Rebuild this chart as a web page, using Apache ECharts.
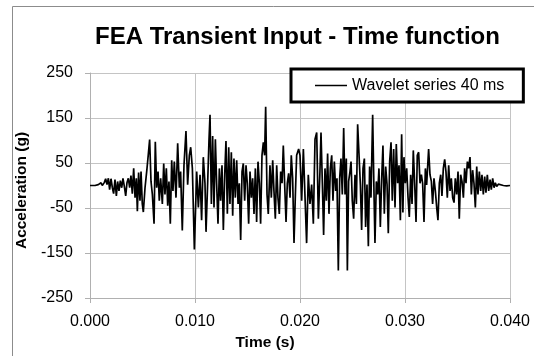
<!DOCTYPE html>
<html>
<head>
<meta charset="utf-8">
<script src="https://cdn.jsdelivr.net/npm/echarts@6/dist/echarts.min.js"></script>
<style>
  html, body { margin: 0; padding: 0; background: #fff; }
  #chart { width: 534px; height: 356px; }
</style>
</head>
<body>
<div id="chart"></div>
<script>
// 数据
const titleText = 'FEA Transient Input - Time function'
const seriesName = 'Wavelet series 40 ms'
const xName = 'Time (s)'
const yName = 'Acceleration (g)'
const xRange = [0, 0.04, 0.01]
const yRange = [-250, 250, 100]

// time in ms, acceleration in g
const timeMs = [
  0, 0.48, 0.79, 1.05, 1.17, 1.37, 1.49, 1.62, 1.75, 1.87, 2.00, 2.13, 2.25, 2.38, 2.51, 2.63, 2.76, 2.89, 3.02, 3.14,
  3.27, 3.40, 3.52, 3.65, 3.78, 3.90, 4.03, 4.16, 4.29, 4.41, 4.51, 4.63, 4.76, 4.86, 4.98, 5.08, 5.24, 5.43, 5.56, 5.68,
  5.81, 5.94, 6.10, 6.22, 6.35, 6.48, 6.60, 6.73, 6.89, 7.02, 7.14, 7.27, 7.40, 7.52, 7.65, 7.78, 7.90, 8.03, 8.19, 8.35,
  8.51, 8.63, 8.79, 8.95, 9.14, 9.30, 9.46, 9.59, 9.75, 9.94,
  10.16, 10.32, 10.48, 10.63, 10.79, 10.95, 11.05, 11.21, 11.33, 11.43, 11.56, 11.68, 11.81, 11.94, 12.06, 12.19, 12.32, 12.44, 12.57, 12.70,
  12.83, 12.95, 13.08, 13.21, 13.33, 13.46, 13.59, 13.71, 13.84, 13.97, 14.10, 14.22, 14.35, 14.48, 14.60, 14.73, 14.86, 14.98, 15.11, 15.24,
  15.37, 15.49, 15.62, 15.75, 15.87, 16.00, 16.13, 16.25, 16.38, 16.51, 16.63, 16.73, 16.86, 16.98, 17.14, 17.27, 17.40, 17.52, 17.65, 17.78,
  17.90, 18.03, 18.16, 18.29, 18.41, 18.54, 18.67, 18.79, 18.92, 19.05, 19.17, 19.30, 19.43, 19.56, 19.68, 19.87,
  20.00, 20.16, 20.32, 20.48, 20.63, 20.79, 20.95, 21.11, 21.27, 21.43, 21.59, 21.75, 21.90, 22.00, 22.13, 22.25, 22.38, 22.51, 22.63, 22.76,
  22.89, 23.02, 23.14, 23.27, 23.40, 23.52, 23.65, 23.78, 23.90, 24.03, 24.16, 24.29, 24.41, 24.51, 24.63, 24.76, 24.86, 24.98, 25.11, 25.24,
  25.37, 25.49, 25.62, 25.75, 25.87, 26.00, 26.13, 26.25, 26.38, 26.51, 26.63, 26.76, 26.92, 27.05, 27.14, 27.27, 27.40, 27.52, 27.65, 27.78,
  27.90, 28.03, 28.16, 28.29, 28.41, 28.54, 28.67, 28.79, 28.92, 29.05, 29.17, 29.30, 29.43, 29.56, 29.68, 29.80, 29.90,
  30.03, 30.16, 30.29, 30.41, 30.54, 30.67, 30.79, 30.92, 31.05, 31.17, 31.30, 31.43, 31.56, 31.68, 31.81, 31.94, 32.06, 32.25, 32.38, 32.51,
  32.63, 32.76, 32.89, 33.02, 33.14, 33.27, 33.40, 33.52, 33.65, 33.78, 33.90, 34.03, 34.16, 34.29, 34.41, 34.54, 34.67, 34.79, 34.92, 35.05,
  35.17, 35.30, 35.43, 35.56, 35.68, 35.81, 35.94, 36.06, 36.19, 36.32, 36.44, 36.57, 36.70, 36.83, 36.95, 37.08, 37.21, 37.33, 37.46, 37.59,
  37.71, 37.84, 37.97, 38.10, 38.22, 38.35, 38.48, 38.60, 38.73, 38.89, 39.05, 39.37, 39.68, 40.00
]
const accelG = [
  0, 0, 2, 6, 0, 7, 15, 2, 16, -9, 15, -5, -18, 13, -23, 9, -12, 11, -5, 16,
  -2, -23, 6, 16, -5, 22, -18, 38, -27, 16, -57, 29, -34, 31, -41, -59, -5, 38, 71, 102,
  9, -20, -85, 97, -5, 31, -34, 16, -41, 49, -20, 38, -45, 9, -85, 56, -12, 53, -27, 94,
  -5, 31, -100, 45, 121, 2, 67, 85, 38, -142,
  31, -49, 24, -77, 63, 5, -103, 9, 99, 157, -41, 110, -49, 103, 5, -85, 38, -34, 45, -99,
  24, 99, -63, 85, -41, 74, -67, 60, -27, 56, -41, 5, -121, 31, 49, -34, 45, 5, -85, 31,
  -27, 16, -63, 38, -81, 53, 5, -85, 67, 96, 67, 175, -20, -63, 45, -27, 56, -12, -74, 45,
  -27, -63, 31, 5, 89, 2, -81, 5, 27, -27, 67, 16, -128, -20, 67, 81,
  67, -34, 81, -27, -128, 24, -41, 2, -85, 103, 118, -74, 31, 118, 5, -110, 38, -34, 71, -63,
  38, 67, -34, 53, -12, 16, -189, 16, 60, -20, 128, -20, 60, -189, 9, 31, 53, -34, -74, 24,
  -41, 136, 132, 2, -99, 38, 60, -92, 2, -135, 42, -27, 157, -20, -128, 9, -20, 38, -92, 16,
  89, -63, 42, 2, -106, 53, 96, -34, 81, -49, 92, 5, 45, -77, 114, -60, 63,
  5, 38, -27, -70, 24, -41, 78, 5, -81, 67, 74, 5, 24, 5, -81, 38, 1, 81, 24, 9,
  -41, 16, -12, -49, -77, 5, 24, -23, 38, 58, 31, -27, 45, -12, 16, -27, -38, 16, -20, 31,
  -74, 24, 9, -27, 38, 5, 53, 38, 63, -20, 34, 5, -49, 42, -20, 31, -12, 24, -20, 20,
  -16, 24, -12, 13, -9, 16, -5, 6, -2, 3, 0, 0, -1, 0
]

const font = '"Liberation Sans", Arial, sans-serif'
const chart = echarts.init(document.getElementById('chart'))

const option = {
  animation: false,
  backgroundColor: '#fff',
  title: {
    text: titleText,
    left: 95,
    top: 25,
    padding: 0,
    textStyle: { fontFamily: font, fontSize: 24, fontWeight: 'bold', color: '#000' }
  },
  legend: {
    data: [{ name: seriesName, icon: 'rect' }],
    left: 291,
    top: 69,
    padding: [8, 19, 8, 24],
    itemWidth: 32,
    itemHeight: 1.5,
    backgroundColor: '#fff',
    borderColor: '#000',
    borderWidth: 3,
    borderRadius: 0,
    textStyle: { fontFamily: font, fontSize: 16, color: '#000', lineHeight: 17 }
  },
  graphic: [{
    type: 'rect',
    shape: { x: 12.5, y: 6.5, width: 700, height: 500 },
    style: { fill: 'none', stroke: '#8c8c8c', lineWidth: 1 },
    silent: true,
    z: -10
  }],
  grid: { left: 90, right: 24, top: 73, bottom: 53 },
  xAxis: {
    type: 'value',
    min: xRange[0],
    max: xRange[1],
    interval: xRange[2],
    name: xName,
    nameLocation: 'middle',
    nameGap: 37,
    nameTextStyle: { fontFamily: font, fontSize: 15.5, fontWeight: 'bold', color: '#000', padding: [0, 70, 0, 0] },
    axisLine: { onZero: false, lineStyle: { color: '#b0b0b0', width: 1 } },
    axisTick: { show: true, length: 5, lineStyle: { color: '#b0b0b0' } },
    axisLabel: { margin: 16, fontFamily: font, fontSize: 16, color: '#000', formatter: v => v.toFixed(3) },
    splitLine: { show: true, lineStyle: { color: '#c4c4c4', width: 1 } }
  },
  yAxis: {
    type: 'value',
    min: yRange[0],
    max: yRange[1],
    interval: yRange[2],
    name: yName,
    nameLocation: 'middle',
    nameRotate: 90,
    nameGap: 54,
    nameTextStyle: { fontFamily: font, fontSize: 15.5, fontWeight: 'bold', color: '#000', padding: [0, 10, 0, 0] },
    axisLine: { show: true, lineStyle: { color: '#b0b0b0', width: 1 } },
    axisTick: { show: true, length: 5, lineStyle: { color: '#b0b0b0' } },
    axisLabel: { margin: 17, fontFamily: font, fontSize: 16, color: '#000' },
    splitLine: { show: true, lineStyle: { color: '#c4c4c4', width: 1 } }
  },
  series: [{
    name: seriesName,
    type: 'line',
    symbol: 'none',
    lineStyle: { color: '#000', width: 1.7 },
    itemStyle: { color: '#000' },
    data: timeMs.map((t, i) => [t / 1000, accelG[i]])
  }]
}
chart.setOption(option)
</script>
</body>
</html>
